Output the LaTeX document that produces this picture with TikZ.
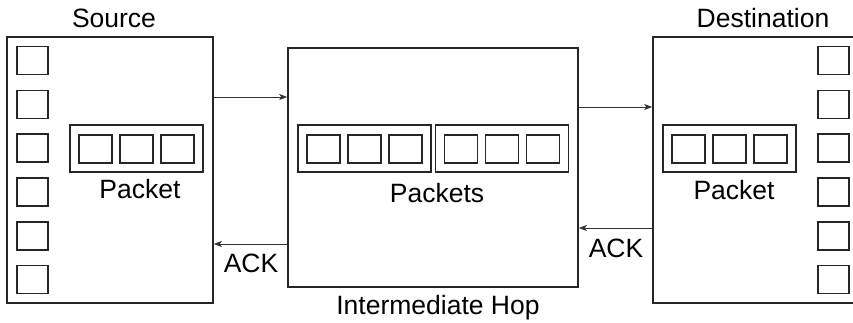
\documentclass[tikz,border=0pt]{standalone}
\usepackage{fontspec}
\setmainfont{Liberation Sans}
\usetikzlibrary{arrows.meta}
\begin{document}
\begin{tikzpicture}[x=1pt,y=-1pt,
  host/.style={draw=black!85,line width=1.6pt,minimum width=#1,minimum height=266pt,inner sep=0pt},
  hop/.style={draw=black!85,line width=1.6pt,minimum width=290pt,minimum height=239pt,inner sep=0pt},
  slot/.style={draw=black!85,line width=1.6pt,minimum width=31pt,minimum height=28pt,inner sep=0pt},
  cell/.style={draw=black!85,line width=1.6pt,minimum width=33pt,minimum height=28pt,inner sep=0pt},
  frame/.style={draw=black!85,line width=1.6pt,minimum width=133pt,minimum height=47pt,inner sep=0pt},
  lbl/.style={font=\fontsize{26.5}{30}\selectfont,inner sep=0pt},
  conn/.style={draw=black!80,line width=1pt,-{Stealth[length=8pt,width=6pt,inset=2pt]}}]
  \clip (0,0) rectangle (853,322);
  \useasboundingbox (0,0) rectangle (853,322);

  % hosts and the intermediate router
  \node[host=206pt] (src) at (110,170) {};
  \node[hop] (mid) at (433,167.5) {};
  \node[host=207pt] (dst) at (756.5,170) {};

  % buffer slots at the outer edges of the hosts
  \foreach \i/\y in {1/60.5,2/104.3,3/148.1,4/191.9,5/235.7,6/279.5}{
    \node[slot] (s\i) at (32.5,\y) {};
    \node[slot] (d\i) at (833.5,\y) {};
  }

  % packets: a frame holding three cells
  \foreach \n/\x in {ps/136.5,pm1/364.5,pm2/502,pd/729.5}{
    \node[frame] (\n) at (\x,148.5) {};
    \node[cell] (\n a) at (\x-41,149) {};
    \node[cell] (\n b) at (\x,149) {};
    \node[cell] (\n c) at (\x+41,149) {};
  }

  % labels
  \node[lbl] (tsrc) at (114,18) {Source};
  \node[lbl] (tdst) at (763,18) {Destination};
  \node[lbl] (tps) at (140,189) {Packet};
  \node[lbl] (tpd) at (734,190) {Packet};
  \node[lbl] (tpm) at (437,193) {Packets};
  \node[lbl] (thop) at (438,308) {Intermediate Hop};
  \node[lbl] (ack1) at (251,263) {ACK};
  \node[lbl] (ack2) at (616,248) {ACK};

  % connectors
  \coordinate (r1) at (0,97);
  \coordinate (r2) at (0,107);
  \coordinate (r3) at (0,228);
  \coordinate (r4) at (0,244);
  \draw[conn] (src.east |- r1) -- (mid.west |- r1);
  \draw[conn] (mid.east |- r2) -- (dst.west |- r2);
  \draw[conn] (dst.west |- r3) -- (mid.east |- r3);
  \draw[conn] (mid.west |- r4) -- (src.east |- r4);
\end{tikzpicture}
\end{document}
